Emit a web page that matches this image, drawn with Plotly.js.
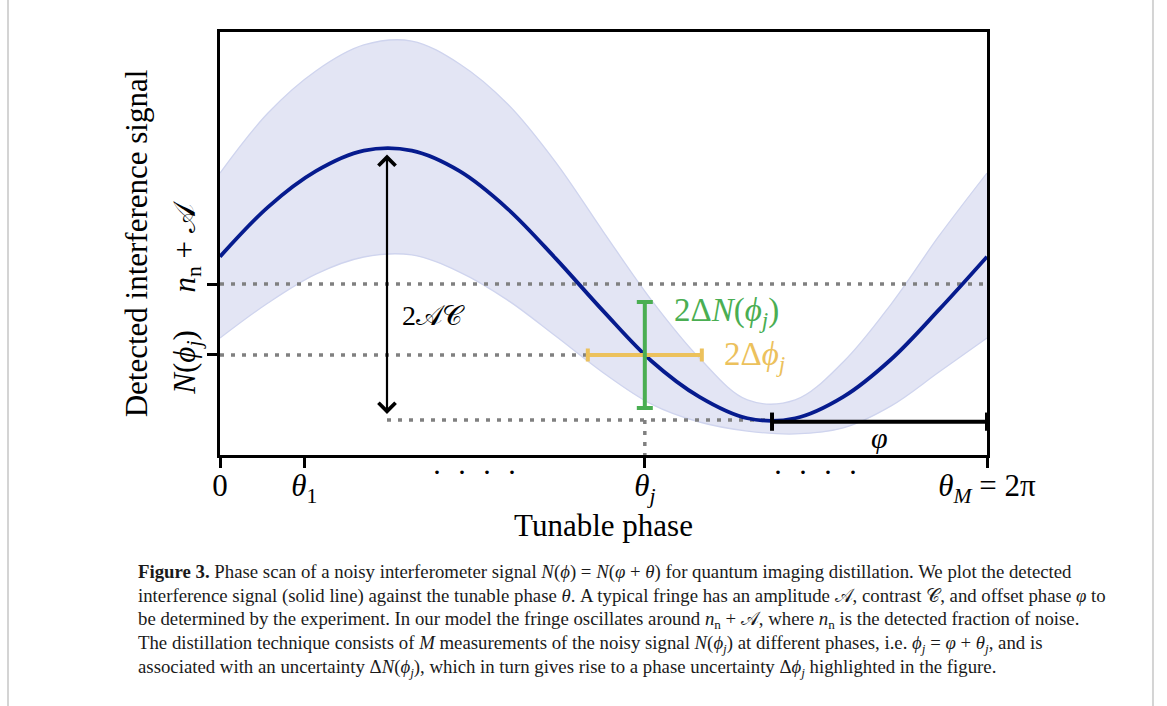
<!DOCTYPE html>
<html>
<head>
<meta charset="utf-8">
<script src="https://cdn.plot.ly/plotly-3.0.1.min.js"></script>
<style>html,body{margin:0;padding:0;background:#fff;}#chart{width:1167px;height:706px;}</style>
</head>
<body>
<div id="chart"></div>
<script>
// ---- data (y in units of n_n + A) ----
const theta = [0, 0.393, 0.785, 1.178, 1.571, 1.963, 2.356, 2.749, 3.142, 3.534, 3.927, 4.320, 4.712, 5.105, 5.498, 5.890, 6.283];
const signal = [1.16, 1.45, 1.66, 1.78, 1.78, 1.66, 1.44, 1.15, 0.84, 0.55, 0.34, 0.215, 0.215, 0.34, 0.56, 0.85, 1.16];
const bandUpper = [1.649, 2.000, 2.246, 2.398, 2.421, 2.287, 2.053, 1.713, 1.304, 0.906, 0.567, 0.322, 0.322, 0.544, 0.883, 1.281, 1.649];
const bandLower = [0.684, 0.889, 1.058, 1.158, 1.170, 1.070, 0.906, 0.696, 0.480, 0.298, 0.193, 0.140, 0.123, 0.158, 0.287, 0.485, 0.684];

const thetaTicks = [0, 0.69, 3.48, 6.283];
const thetaTickText = ['0', '<i>θ</i><sub>1</sub>', '<i>θ</i><sub><i>j</i></sub>', '<i>θ</i><sub><i>M</i></sub> = 2π'];
const levelTicks = [0.585, 1.0];
const levelTickText = ['<i>N</i>(<i>ϕ</i><sub><i>j</i></sub>)\u00a0\u00a0\u00a0', '\u00a0\u00a0\u00a0\u00a0\u00a0\u00a0\u00a0\u00a0<i>n</i><sub>n</sub> + 𝒜'];

const thetaPeak = 1.368, thetaMin = 4.522, thetaJ = 3.48, thetaEnd = 6.283;
const midLevel = 1.0, levelJ = 0.585, minLevel = 0.205;
const arrowTop = 1.766, arrowBottom = 0.24;
const deltaPhi = 0.467, deltaN = 0.31;
const dotsPos = [2.081, 4.882];

const F = 'Liberation Serif, DejaVu Serif, serif';
const dotted = {color: '#808080', width: 3.5, dash: '4px,7px'};

const traces = [
  {x: theta, y: bandLower, mode: 'lines', line: {color: '#cfd4ee', width: 1.3, shape: 'spline', smoothing: 1}, hoverinfo: 'skip'},
  {x: theta, y: bandUpper, mode: 'lines', fill: 'tonexty', fillcolor: '#e3e5f4', line: {color: '#cfd4ee', width: 1.3, shape: 'spline', smoothing: 1}, hoverinfo: 'skip'},
  {x: [0, thetaEnd], y: [midLevel, midLevel], mode: 'lines', line: dotted},
  {x: [0, thetaJ - deltaPhi], y: [levelJ, levelJ], mode: 'lines', line: dotted},
  {x: [thetaPeak, thetaMin], y: [minLevel, minLevel], mode: 'lines', line: dotted},
  {x: [thetaJ, thetaJ], y: [minLevel, 0], mode: 'lines', line: dotted},
  {x: theta, y: signal, mode: 'lines', line: {color: '#061b8e', width: 3.8, shape: 'spline'}},
  {x: [thetaJ], y: [levelJ], mode: 'markers', marker: {size: 1, color: 'rgba(0,0,0,0)'},
   error_x: {type: 'constant', value: deltaPhi, color: '#ecc15c', thickness: 4, width: 6.5}},
  {x: [thetaJ], y: [levelJ], mode: 'markers', marker: {size: 1, color: 'rgba(0,0,0,0)'},
   error_y: {type: 'constant', value: deltaN, color: '#4aae52', thickness: 4, width: 8}},
  {x: [thetaMin, thetaEnd], y: [minLevel - 0.01, minLevel - 0.01], mode: 'lines+markers', cliponaxis: false,
   line: {color: 'black', width: 4}, marker: {symbol: 'line-ns', size: 13, line: {color: 'black', width: 4}}}
];

const annotations = [
  {x: thetaPeak, y: arrowBottom, ax: thetaPeak, ay: arrowTop, xref: 'x', yref: 'y', axref: 'x', ayref: 'y', text: '',
   showarrow: true, arrowside: 'end+start', arrowhead: 4, startarrowhead: 4, arrowsize: 1.5, startarrowsize: 1.5, arrowwidth: 2.2, arrowcolor: 'black'},
  {x: 1.474, y: 0.813, xref: 'x', yref: 'y', xanchor: 'left', yanchor: 'middle', showarrow: false,
   text: '2𝒜𝒞', font: {family: F, size: 28, color: 'black'}},
  {x: 3.703, y: 0.836, xref: 'x', yref: 'y', xanchor: 'left', yanchor: 'middle', showarrow: false,
   text: '2Δ<i>N</i>(<i>ϕ</i><sub><i>j</i></sub>)', font: {family: F, size: 33, color: '#4aae52'}},
  {x: 4.112, y: 0.579, xref: 'x', yref: 'y', xanchor: 'left', yanchor: 'middle', showarrow: false,
   text: '2Δ<i>ϕ</i><sub><i>j</i></sub>', font: {family: F, size: 33, color: '#ecc15c'}},
  {x: 5.406, y: 0.105, xref: 'x', yref: 'y', xanchor: 'center', yanchor: 'middle', showarrow: false,
   text: '<i>φ</i>', font: {family: F, size: 30, color: 'black'}},
];
dotsPos.forEach(p => annotations.push({x: p, y: -0.04, xref: 'x', yref: 'paper', showarrow: false, xanchor: 'center', yanchor: 'middle',
  text: '·\u00a0\u00a0·\u00a0\u00a0·\u00a0\u00a0·', font: {family: F, size: 30, color: 'black'}}));

const caption = [
  '<b>Figure 3.</b> Phase scan of a noisy interferometer signal <i>N</i>(<i>ϕ</i>) = <i>N</i>(<i>φ</i> + <i>θ</i>) for quantum imaging distillation. We plot the detected',
  'interference signal (solid line) against the tunable phase <i>θ</i>. A typical fringe has an amplitude 𝒜, contrast 𝒞, and offset phase <i>φ</i> to',
  'be determined by the experiment. In our model the fringe oscillates around <i>n</i><sub>n</sub> + 𝒜, where <i>n</i><sub>n</sub> is the detected fraction of noise.',
  'The distillation technique consists of <i>M</i> measurements of the noisy signal <i>N</i>(<i>ϕ<sub>j</sub></i>) at different phases, i.e. <i>ϕ<sub>j</sub></i> = <i>φ</i> + <i>θ<sub>j</sub></i>, and is',
  'associated with an uncertainty Δ<i>N</i>(<i>ϕ<sub>j</sub></i>), which in turn gives rise to a phase uncertainty Δ<i>ϕ<sub>j</sub></i> highlighted in the figure.'
];
const captionY = [-0.2766, -0.3333, -0.3901, -0.4468, -0.5035];
caption.forEach((t, i) => annotations.push({x: -0.1095, y: captionY[i], xref: 'paper', yref: 'paper', xanchor: 'left', yanchor: 'middle',
  showarrow: false, text: t, font: {family: F, size: 18.8, color: '#1a1a1a'}}));

const layout = {
  width: 1167, height: 706,
  margin: {l: 220, r: 180, t: 32, b: 251, pad: 0},
  paper_bgcolor: 'white', plot_bgcolor: 'white', showlegend: false,
  xaxis: {range: [0, 6.283], showline: true, linecolor: 'black', linewidth: 3, mirror: true,
    ticks: 'outside', ticklen: 10, tickwidth: 3, tickcolor: 'black', showgrid: false, zeroline: false,
    tickvals: thetaTicks, ticktext: thetaTickText, tickfont: {family: F, size: 31, color: 'black'}, ticklabelstandoff: -9,
    title: {text: 'Tunable phase', font: {family: F, size: 31, color: 'black'}, standoff: 6}},
  yaxis: {range: [0, 2.474], showline: true, linecolor: 'black', linewidth: 3, mirror: true,
    ticks: 'outside', ticklen: 10, tickwidth: 3, tickcolor: 'black', showgrid: false, zeroline: false,
    tickvals: levelTicks, ticktext: levelTickText, tickangle: -90, tickfont: {family: F, size: 31, color: 'black'},
    title: {text: 'Detected interference signal', font: {family: F, size: 31, color: 'black'}, standoff: 10}},
  shapes: [
    {type: 'line', xref: 'paper', yref: 'paper', x0: -0.2764, x1: -0.2764, y0: -0.6, y1: 1.1, line: {color: '#d4d4d4', width: 2}},
    {type: 'line', xref: 'paper', yref: 'paper', x0: 1.2164, x1: 1.2164, y0: -0.6, y1: 1.1, line: {color: '#d4d4d4', width: 2}}
  ],
  annotations: annotations
};

Plotly.newPlot('chart', traces, layout, {staticPlot: true, displayModeBar: false});
</script>
</body>
</html>
